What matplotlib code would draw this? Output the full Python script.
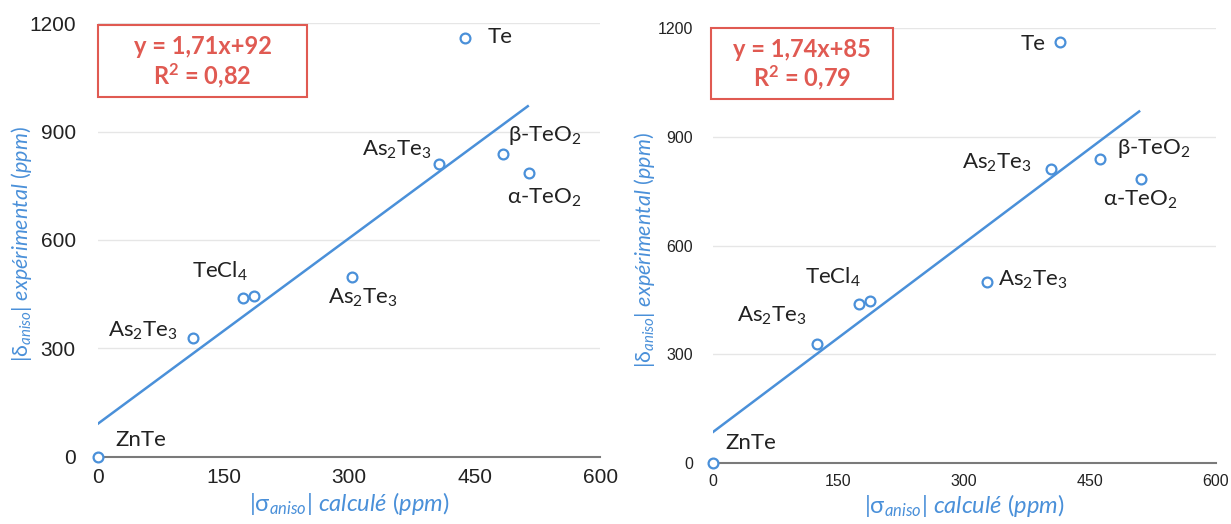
import matplotlib
matplotlib.use("Agg")
import matplotlib.pyplot as plt

plt.rcParams['font.family'] = ['Lato', 'DejaVu Sans']
plt.rcParams['mathtext.fontset'] = 'custom'
plt.rcParams['mathtext.rm'] = 'Lato'
plt.rcParams['mathtext.it'] = 'Lato:italic'
plt.rcParams['mathtext.bf'] = 'Lato:bold'

BLUE = '#4a90d9'
RED = '#e05a52'

names = ['ZnTe', 'As$_2$Te$_3$', 'TeCl$_4$', '', 'As$_2$Te$_3$', 'As$_2$Te$_3$',
         'β-TeO$_2$', 'α-TeO$_2$', 'Te']

# left panel
x_left = [0, 114, 173, 186, 304, 407, 484, 515, 439]
y_left = [0, 328, 439, 446, 497, 809, 838, 784, 1159]
fit_left = (1.71, 92)
eq_left = ['y = 1,71x+92', r'R$^\mathbf{2}$ = 0,82']
lab_left = [(21, 48, 'left'), (95, 349, 'right'), (146, 512, 'center'), None,
            (275, 441, 'left'), (399, 848, 'right'), (490, 888, 'left'),
            (489, 717, 'left'), (465, 1161, 'left')]

# right panel
x_right = [0, 124, 175, 188, 327, 403, 462, 511, 414]
y_right = [0, 329, 440, 448, 499, 811, 840, 783, 1161]
fit_right = (1.74, 85)
eq_right = ['y = 1,74x+85', r'R$^\mathbf{2}$ = 0,79']
lab_right = [(15, 54, 'left'), (70, 406, 'center'), (143, 511, 'center'), None,
             (340, 505, 'left'), (381, 829, 'right'), (482, 869, 'left'),
             (465, 725, 'left'), (397, 1155, 'right')]

xticks = [0, 150, 300, 450, 600]
yticks = [0, 300, 600, 900, 1200]

fig = plt.figure(figsize=(12.31, 5.24), dpi=100)


def panel(rect, xs, ys, fit, eq, labs, box, tick_size, ypad, ylab_x):
    ax = fig.add_axes(rect)
    ax.set_xlim(0, 600)
    ax.set_ylim(0, 1200)
    ax.set_xticks(xticks)
    ax.set_yticks(yticks)
    for s in ['top', 'right', 'left']:
        ax.spines[s].set_visible(False)
    ax.spines['bottom'].set_color('#7a7a7a')
    ax.spines['bottom'].set_linewidth(1.5)
    ax.grid(axis='y', color='#e6e6e6', linewidth=1)
    ax.set_axisbelow(True)
    ax.tick_params(length=0, labelsize=tick_size, colors='#222222')
    ax.tick_params(axis='x', pad=8)
    ax.tick_params(axis='y', pad=ypad)
    for t in ax.get_xticklabels() + ax.get_yticklabels():
        t.set_fontfamily('Liberation Sans')

    a, b = fit
    xe = (970 - b) / a
    ax.plot([0, xe], [b, a * xe + b], color=BLUE, lw=1.8, zorder=2)
    ax.scatter(xs, ys, s=50, facecolors='white', edgecolors=BLUE,
               linewidths=1.6, zorder=3, clip_on=False)

    for name, lab in zip(names, labs):
        if lab is None:
            continue
        ax.text(lab[0], lab[1], name, ha=lab[2], va='center',
                fontsize=16, color='#222222')

    bx0, bx1, by0, by1 = box
    ax.add_patch(plt.Rectangle((bx0, by0), bx1 - bx0, by1 - by0,
                               fill=True, facecolor='white', edgecolor=RED,
                               lw=1.5, zorder=4, clip_on=False))
    cx = (bx0 + bx1) / 2
    ax.text(cx, by1 - (by1 - by0) * 0.3, eq[0], ha='center', va='center',
            color=RED, fontsize=17, fontweight='bold', zorder=5)
    ax.text(cx, by1 - (by1 - by0) * 0.71, eq[1], ha='center', va='center',
            color=RED, fontsize=17, fontweight='bold', zorder=5)

    ax.set_xlabel(r'|$\mathrm{\sigma}_{\mathit{aniso}}$| $\mathit{calculé\ (ppm)}$',
                  color=BLUE, fontsize=17, labelpad=2)
    ax.set_ylabel(r'|$\mathrm{\delta}_{\mathit{aniso}}$| $\mathit{expérimental\ (ppm)}$',
                  color=BLUE, fontsize=15.5)
    ax.yaxis.set_label_coords(ylab_x, 0.49)
    return ax


panel([0.0796, 0.128, 0.408, 0.828], x_left, y_left, fit_left, eq_left,
      lab_left, (0, 250, 995, 1195), 15, 16, -0.128)
panel([0.579, 0.1164, 0.4086, 0.830], x_right, y_right, fit_right, eq_right,
      lab_right, (-2, 215, 1004, 1201), 11.5, 14, -0.11)

fig.savefig('out.png', dpi=100)
